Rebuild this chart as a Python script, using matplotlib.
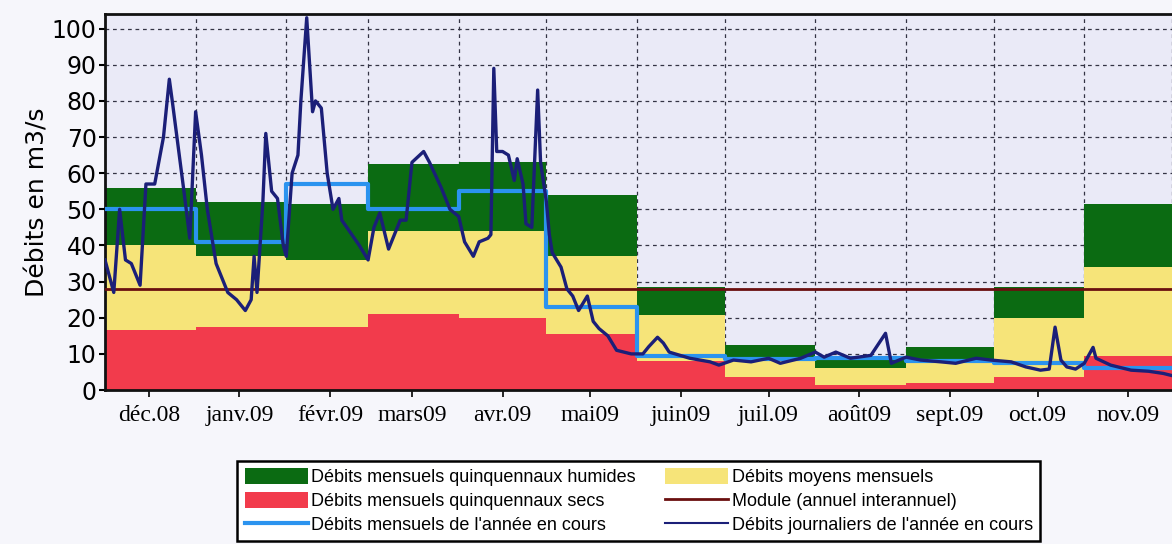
import datetime as dt
import matplotlib
matplotlib.use('Agg')
import matplotlib.pyplot as plt
from matplotlib.patches import Patch
from matplotlib.lines import Line2D

start = dt.date(2008, 12, 1)

# month edges (first day of each month, Dec 08 -> Dec 09)
month_starts = [dt.date(2008, 12, 1)] + [dt.date(2009, m, 1) for m in range(1, 13)]
month_labels = ['déc.08', 'janv.09', 'févr.09', 'mars09', 'avr.09', 'mai09',
                'juin09', 'juil.09', 'août09', 'sept.09', 'oct.09', 'nov.09']

# monthly values (m3/s)
dry_q5 = [16.5, 17.5, 17.5, 21, 20, 15.5, 8, 3.5, 1.5, 2, 3.5, 9.5]
mean_monthly = [40, 37, 36, 44, 44, 37, 20.7, 8.8, 6, 8.3, 19.8, 34]
wet_q5 = [56, 52, 51.5, 62.5, 63, 54, 28.4, 12.5, 9.5, 11.8, 28.4, 51.5]
current_monthly = [50, 41, 57, 50, 55, 23, 9.5, 8.5, 9, 8, 7.5, 6]
module = 28

# daily flows of the current year (day offset from 1 Dec 2008, value)
daily_days = [0, 1, 3, 5, 7, 9, 12, 14, 17, 20, 22, 23, 27, 29, 31, 33, 35, 38, 42, 45,
              48, 50, 51, 52, 54, 55, 57, 59, 61, 62, 64, 66, 67, 69, 70, 71, 72, 74, 76, 78,
              80, 81, 87, 90, 92, 94, 97, 101, 103, 105, 109, 111, 115, 118, 121, 123, 126, 128, 131, 132,
              133, 134, 136, 138, 140, 141, 143, 144, 146, 148, 149, 151, 152, 153, 156, 158, 160, 162, 165, 167,
              169, 172, 175, 180, 184, 186, 189, 191, 193, 200, 207, 210, 215, 221, 227, 231, 238, 243, 246, 250,
              255, 262, 267, 269, 274, 279, 286, 291, 298, 303, 310, 315, 320, 323, 325, 327, 329, 332, 335, 338,
              339, 344, 351, 357, 362, 365]
daily_vals = [36, 33, 27, 50, 36, 35, 29, 57, 57, 70, 86, 80, 55, 42, 77, 65, 50, 35, 27, 25,
              22, 25, 37, 27, 52, 71, 55, 53, 40, 37, 60, 65, 80, 103, 90, 77, 80, 78, 60, 50,
              53, 47, 40, 36, 45, 49, 39, 47, 47, 63, 66, 63, 56, 50, 48, 41, 37, 41, 42, 43,
              89, 66, 66, 65, 58, 64, 57, 46, 45, 83, 63, 52, 43, 38, 34, 28, 26, 22, 26, 19,
              17, 15, 11, 10, 10, 12, 14.6, 13, 10.5, 8.8, 7.8, 6.9, 8.3, 7.8, 8.8, 7.4, 8.8, 10.5, 9.1, 10.5,
              8.8, 9.6, 15.7, 7.4, 9.1, 8.3, 7.8, 7.4, 8.8, 8.3, 7.8, 6.4, 5.5, 5.8, 17.4, 8.3, 6.4, 5.8, 7.4, 11.8,
              8.8, 6.9, 5.5, 5.2, 4.6, 4]

daily_dates = [start + dt.timedelta(days=d) for d in daily_days]
tick_dates = [dt.date(d.year, d.month, 16) for d in month_starts[:-1]]

def steps(vals):
    return vals + [vals[-1]]

fig = plt.figure(figsize=(11.72, 5.44), dpi=100, facecolor='#f6f6fb')
ax = fig.add_axes([0.0896, 0.283, 0.9104, 0.691])
ax.set_facecolor('#eaeaf7')

green = '#0b6b12'
yellow = '#f6e479'
red = '#f23b4c'
blue = '#2b93ef'
navy = '#1b1f78'
brown = '#6a0f0f'

ax.fill_between(month_starts, 0, steps(dry_q5), step='post', color=red, lw=0, zorder=2)
ax.fill_between(month_starts, steps(dry_q5), steps(mean_monthly), step='post', color=yellow, lw=0, zorder=2)
ax.fill_between(month_starts, steps(mean_monthly), steps(wet_q5), step='post', color=green, lw=0, zorder=2)
ax.axhline(module, color=brown, lw=2, zorder=3)
ax.plot(month_starts, steps(current_monthly), drawstyle='steps-post', color=blue, lw=3, zorder=4)
ax.plot(daily_dates, daily_vals, color=navy, lw=2.4, zorder=5)

ax.set_xlim(month_starts[0], month_starts[-1])
ax.set_ylim(0, 104)
ax.set_yticks(range(0, 101, 10))
ax.set_xticks(tick_dates)
ax.set_xticklabels(month_labels, family='Liberation Serif', fontsize=17)
ax.set_xticks(month_starts, minor=True)
ax.tick_params(axis='x', which='minor', length=0)
ax.tick_params(axis='y', labelsize=17, length=4, width=1.5, pad=2)
ax.tick_params(axis='x', which='major', length=5, width=1.2, pad=6)
ax.grid(True, which='minor', axis='x', color='#333344', ls=(0, (3, 3)), lw=0.9, zorder=1)
ax.grid(True, which='major', axis='y', color='#333344', ls=(0, (3, 3)), lw=0.9, zorder=1)
ax.set_axisbelow(True)
ax.set_ylabel('Débits en m3/s', fontsize=18, labelpad=2)
for s in ax.spines.values():
    s.set_linewidth(2)
    s.set_color('#111111')
ax.spines['right'].set_visible(False)

handles = [Patch(facecolor=green), Patch(facecolor=red),
           Line2D([], [], color=blue, lw=3),
           Patch(facecolor=yellow),
           Line2D([], [], color=brown, lw=2),
           Line2D([], [], color=navy, lw=1.5)]
labels = ['Débits mensuels quinquennaux humides', 'Débits mensuels quinquennaux secs',
          "Débits mensuels de l'année en cours", 'Débits moyens mensuels',
          'Module (annuel interannuel)', "Débits journaliers de l'année en cours"]
leg = fig.legend(handles, labels, ncol=2, loc='center', bbox_to_anchor=(0.545, 0.079),
                 fancybox=False, framealpha=1, edgecolor='black',
                 handlelength=3.5, handleheight=1.0, handletextpad=0.2, columnspacing=1.6,
                 labelspacing=0.3, borderpad=0.4, prop={'family': 'Liberation Sans', 'size': 13})
leg.get_frame().set_linewidth(1.8)

fig.savefig('out.png', dpi=100, facecolor=fig.get_facecolor())
